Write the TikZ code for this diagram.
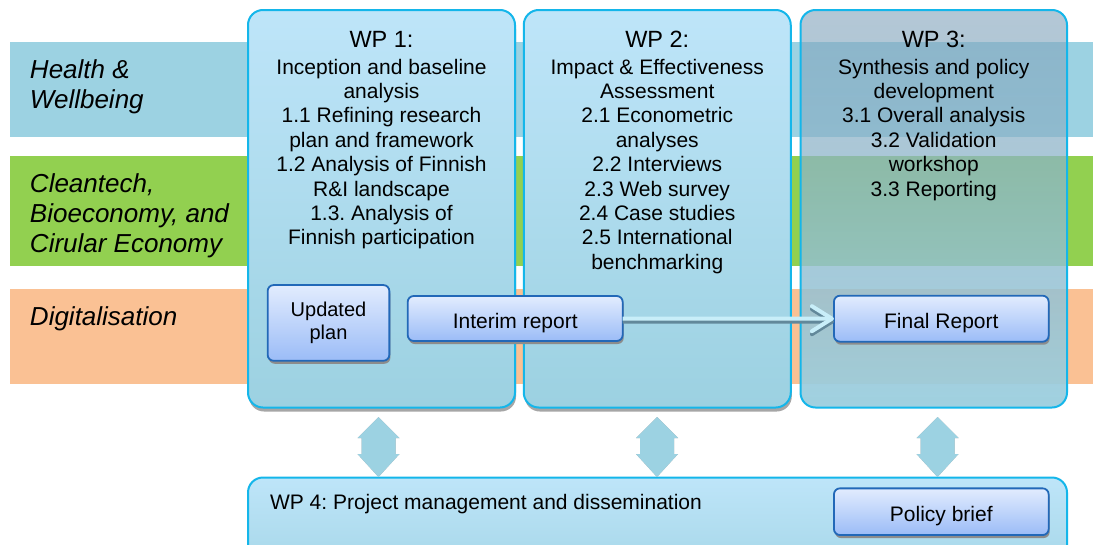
\documentclass[tikz,border=0pt]{standalone}
\usepackage{fontspec}
\setmainfont{Liberation Sans}
\frenchspacing
\usetikzlibrary{shadows,arrows.meta,fadings}
\definecolor{bandblue}{HTML}{9CD2E2}
\definecolor{bandgreen}{HTML}{92D050}
\definecolor{bandorange}{HTML}{FAC194}
\definecolor{wpedge}{HTML}{14B6EA}
\definecolor{wptop}{HTML}{BEE5F9}
\definecolor{wpbot}{HTML}{9CD1E1}
\definecolor{wpthreetop}{HTML}{82A3BB}
\definecolor{wpthreebot}{HTML}{9CCFDF}
\definecolor{boxedge}{HTML}{2268B8}
\definecolor{boxtop}{HTML}{E2ECFE}
\definecolor{boxbot}{HTML}{9BBCF7}
\definecolor{arrowlight}{HTML}{C8EEF9}
\definecolor{arrowdark}{HTML}{62889A}
\definecolor{udshade}{HTML}{A6A6A6}
\tikzfading[name=wpfade, top color=transparent!40, bottom color=transparent!5]
\newcommand{\udarrow}[2][]{%
  \path[#1] (#2) ++(0,-30) -- ++(21,21) -- ++(-4,0) -- ++(0,16) -- ++(4,0)
    -- ++(-21,23) -- ++(-21,-23) -- ++(4,0) -- ++(0,-16) -- ++(-4,0) -- cycle;}
\begin{document}
\begin{tikzpicture}[x=1pt,y=-1pt,
  every node/.style={inner sep=0pt, outer sep=0pt},
  band/.style={rectangle, anchor=north west, minimum width=1083pt},
  bandlabel/.style={font=\fontsize{26}{29.7}\selectfont\itshape, align=left, anchor=base west},
  wpbox/.style={rectangle, rounded corners=15pt, draw=wpedge, line width=2pt,
     minimum width=267pt, minimum height=397.5pt, top color=wptop, bottom color=wpbot,
     drop shadow={shadow xshift=1pt, shadow yshift=-4pt, fill=black!35, opacity=1}},
  wptitle/.style={font=\fontsize{23.5}{26}\selectfont, anchor=base},
  wpbody/.style={font=\fontsize{21}{24.4}\selectfont, align=center, anchor=base},
  smallbox/.style={rectangle, rounded corners=6pt, draw=boxedge, line width=1.8pt,
     top color=boxtop, bottom color=boxbot, align=center,
     font=\fontsize{21}{23.4}\selectfont,
     drop shadow={shadow xshift=1pt, shadow yshift=-3pt, fill=black!45, opacity=1}},
  oneline/.style={text height=20pt, text depth=0pt},
  udfill/.style={fill=bandblue},
  udshadow/.style={fill=udshade},
  conshadow/.style={draw=arrowdark, line width=4pt, transform canvas={yshift=-3pt},
     -{Straight Barb[length=20pt,width=25pt,line cap=round,line join=round]}},
  conmain/.style={draw=arrowlight, line width=4pt,
     -{Straight Barb[length=20pt,width=25pt,line cap=round,line join=round]}}
]
\useasboundingbox (0,0) rectangle (1093,544);
\clip (0,0) rectangle (1093,544);
\fill[white] (0,0) rectangle (1093,544);

% bands
\node[band, fill=bandblue, minimum height=95pt] (hb) at (10,42) {};
\node[band, fill=bandgreen, minimum height=110pt] (gb) at (10,156) {};
\node[band, fill=bandorange, minimum height=95pt] (ob) at (10,289) {};
% (multi-line nodes: base = baseline of the last line)
\node[bandlabel] (hl) at (30,108.3) {Health \&\\Wellbeing};
\node[bandlabel] (gl) at (30,252) {Cleantech,\\Bioeconomy, and\\Cirular Economy};
\node[bandlabel] (ol) at (30,325) {Digitalisation};

% WP boxes
\node[wpbox] (wp1) at (381.5,208.75) {};
\node[wpbox] (wp2) at (657.25,208.75) {};
\node[rectangle, minimum width=266.5pt, minimum height=397.5pt] (wp3) at (933.75,208.75) {};
\begin{scope}[even odd rule, rounded corners=15pt]
  \clip (-20,-20) rectangle (1120,570) (wp3.south west) rectangle (wp3.north east);
  \fill[black!35, shift={(1,4)}]
     (wp3.south west) rectangle (wp3.north east);
\end{scope}
\shade[top color=wpthreetop, bottom color=wpthreebot, path fading=wpfade, rounded corners=15pt]
   (wp3.south west) rectangle (wp3.north east);
\draw[wpedge, line width=2pt, rounded corners=15pt] (wp3.south west) rectangle (wp3.north east);

% WP texts
\node[wptitle] (t1) at (381.5,47.7) {WP 1:};
\node[wpbody] (b1) at (381.5,244.8) {Inception and baseline\\analysis\\1.1 Refining research\\plan and framework\\1.2 Analysis of Finnish\\R\&I landscape\\1.3. Analysis of\\Finnish participation};
\node[wptitle] (t2) at (657.25,47.7) {WP 2:};
\node[wpbody] (b2) at (657.25,269.2) {Impact \& Effectiveness\\Assessment\\2.1 Econometric\\analyses\\2.2 Interviews\\2.3 Web survey\\2.4 Case studies\\2.5 International\\benchmarking};
\node[wptitle] (t3) at (933.75,47.7) {WP 3:};
\node[wpbody] (b3) at (933.75,196) {Synthesis and policy\\development\\3.1 Overall analysis\\3.2 Validation\\workshop\\3.3 Reporting};

% WP4
\node[rectangle, rounded corners=15pt, draw=wpedge, line width=2pt,
   minimum width=819pt, minimum height=132.5pt, top color=wptop, bottom color=wpbot]
   (wp4) at (657.5,543.75) {};
\node[font=\fontsize{21}{24.4}\selectfont, anchor=base west] (t4) at (270,509.8)
   {WP 4: Project management and dissemination};

% up-down arrows
\coordinate (u1) at (378.5,447);
\coordinate (u2) at (657,447);
\coordinate (u3) at (937.5,447);
\foreach \u in {u1,u2,u3}{%
  \udarrow[udshadow, shift={(0,3)}]{\u}
  \udarrow[udfill]{\u}
}

% small boxes
\node[smallbox, minimum width=121.7pt, minimum height=75.7pt, font=\fontsize{20}{23.4}\selectfont] (up) at (328.5,322.9) {Updated\\plan};
\node[smallbox, oneline, minimum width=215pt, minimum height=45pt] (ir) at (515.2,318.5) {Interim report};
\node[smallbox, oneline, minimum width=214.7pt, minimum height=46pt] (fr) at (941.3,318.7) {Final Report};
\node[smallbox, oneline, minimum width=214.7pt, minimum height=46.7pt] (pb) at (941.3,511.7) {Policy brief};

% connector
\draw[conshadow] (ir.east) -- (fr.west);
\draw[conmain] (ir.east) -- (fr.west);
\end{tikzpicture}
\end{document}
